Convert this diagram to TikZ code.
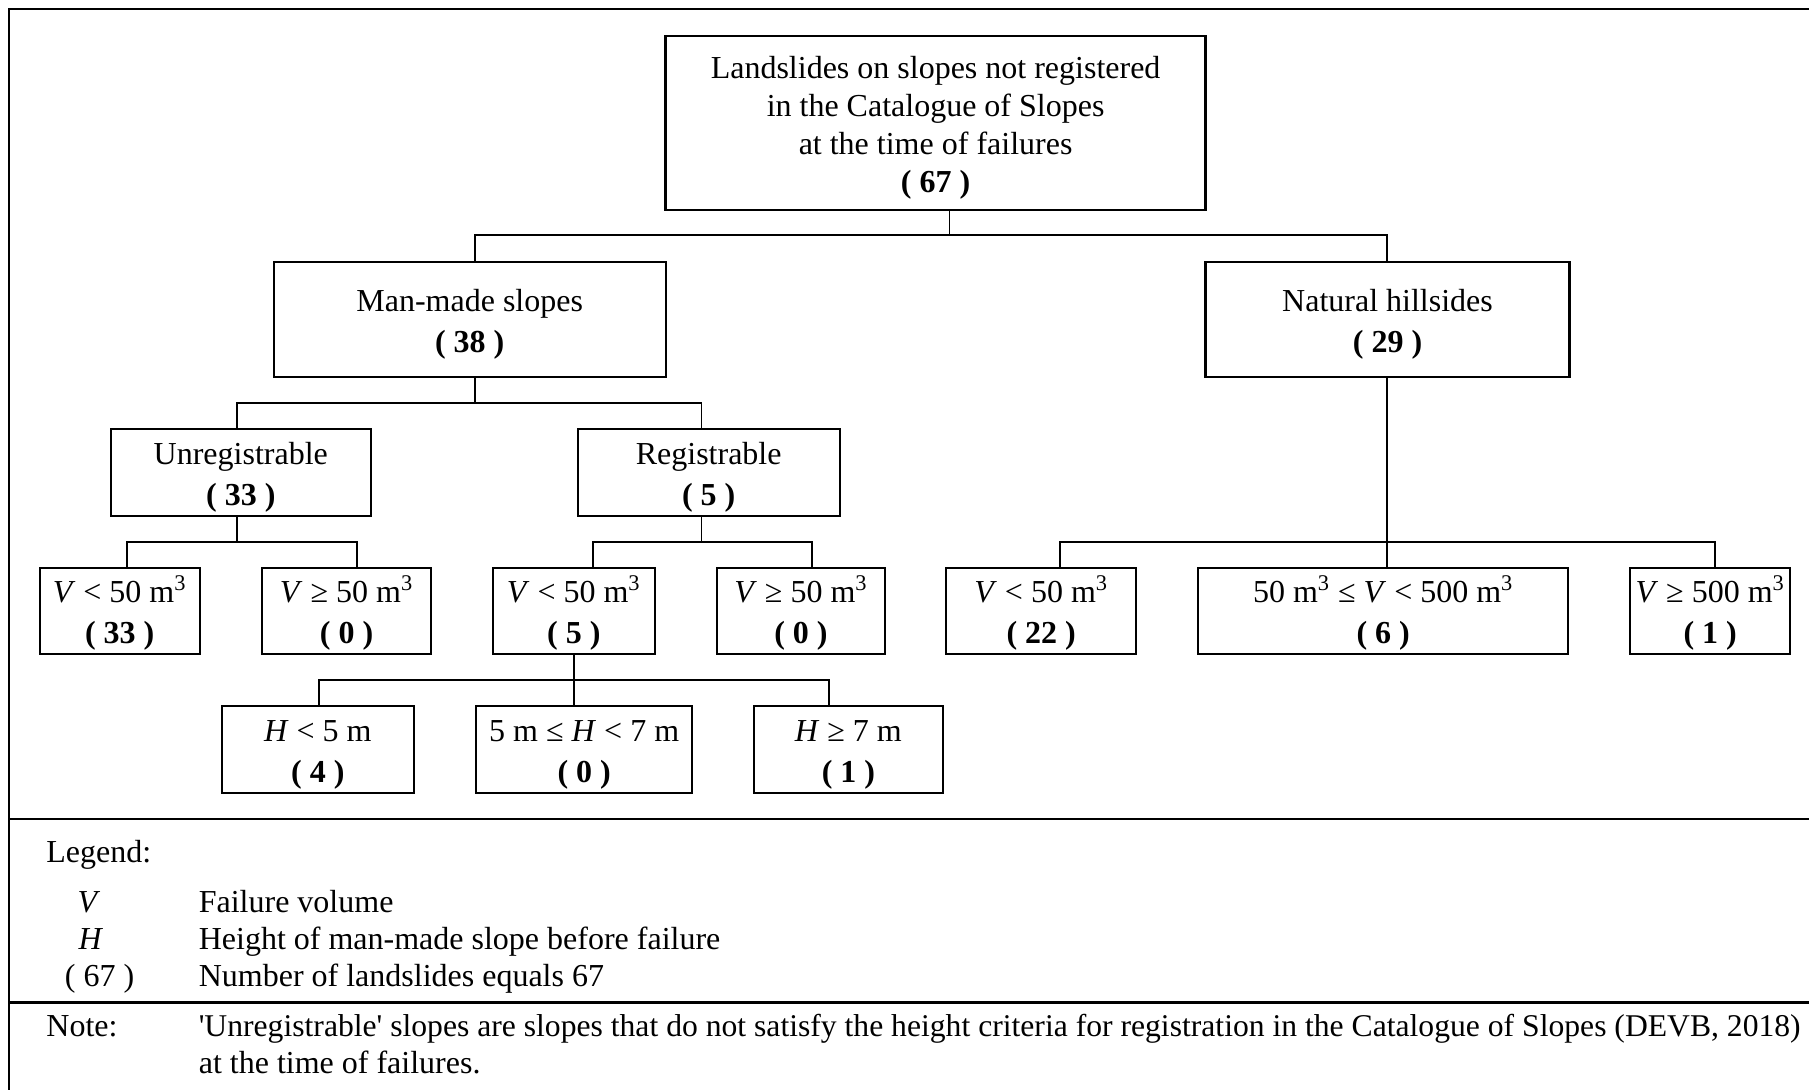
\documentclass[tikz,border=0pt]{standalone}
\usepackage{fontspec}
\setmainfont{Liberation Serif}
\newcommand\dfont{\fontsize{16}{20.5}\selectfont}
\newcommand\tfont{\fontsize{16}{18.9}\selectfont}
\newcommand\nfont{\fontsize{15.82}{19}\selectfont}
\newcommand\cub{m\textsuperscript{3}}
\newcommand\upstrut{\rule{0pt}{16pt}}
\begin{document}
\begin{tikzpicture}[x=0.5pt,y=-0.5pt,
  bx/.style 2 args={draw, line width=1.2pt, inner sep=0pt, align=center,
     minimum width=#1*0.5pt, minimum height=#2*0.5pt, font=\dfont},
  conn/.style={line width=0.9pt},
  frame/.style={line width=1.3pt},
  txt/.style={inner sep=0pt, font=\dfont}]
\useasboundingbox (0,0) rectangle (1809,1090);

% frame
\draw[frame] (9,1090) -- (9,9) -- (1809,9);
\draw[frame] (9,819) -- (1809,819);
\draw[frame] (9,1002.3) -- (1809,1002.3);

% boxes
\node[bx={540}{174}, font=\tfont] (top) at (935.6,123) {\upstrut Landslides on slopes not registered\\in the Catalogue of Slopes\\at the time of failures\\\textbf{( 67 )}};
\node[bx={392}{115}] (mm) at (469.7,319.4) {\upstrut Man-made slopes\\\textbf{( 38 )}};
\node[bx={364}{115}] (nh) at (1387.5,319.4) {\upstrut Natural hillsides\\\textbf{( 29 )}};
\node[bx={260}{87}] (un) at (240.8,472.4) {\upstrut Unregistrable\\\textbf{( 33 )}};
\node[bx={262}{87}] (re) at (708.7,472.4) {\upstrut Registrable\\\textbf{( 5 )}};

\node[bx={160}{86}] (u1) at (119.7,610.9) {\upstrut\textit{V} < 50 \cub\\\textbf{( 33 )}};
\node[bx={169}{86}] (u2) at (346.6,610.9) {\upstrut\textit{V} ≥ 50 \cub\\\textbf{( 0 )}};
\node[bx={162}{86}] (r1) at (573.8,610.9) {\upstrut\textit{V} < 50 \cub\\\textbf{( 5 )}};
\node[bx={168}{86}] (r2) at (801,610.9) {\upstrut\textit{V} ≥ 50 \cub\\\textbf{( 0 )}};
\node[bx={190}{86}] (n1) at (1041.2,610.9) {\upstrut\textit{V} < 50 \cub\\\textbf{( 22 )}};
\node[bx={370}{86}] (n2) at (1383.2,610.9) {\upstrut 50 \cub{} ≤ \textit{V} < 500 \cub\\\textbf{( 6 )}};
\node[bx={160}{86}] (n3) at (1710.2,610.9) {\upstrut\textit{V} ≥ 500 \cub\\\textbf{( 1 )}};

\node[bx={192}{87}] (h1) at (317.9,749.4) {\upstrut\textit{H} < 5 m\\\textbf{( 4 )}};
\node[bx={216}{87}] (h2) at (584.2,749.4) {\upstrut 5 m ≤ \textit{H} < 7 m\\\textbf{( 0 )}};
\node[bx={189}{87}] (h3) at (848.4,749.4) {\upstrut\textit{H} ≥ 7 m\\\textbf{( 1 )}};

% connectors level 1
\coordinate (j0) at (949.5,235.4);
\coordinate (kmm) at (474.6,235.4);
\coordinate (knh) at (1387,235.4);
\draw[conn] (top.south -| j0) -- (j0);
\draw[conn] (mm.north -| kmm) -- (kmm) -- (knh) -- (nh.north -| knh);

% level 2
\coordinate (j1) at (474.6,402.7);
\coordinate (kun) at (237.1,402.7);
\coordinate (kre) at (701.5,402.7);
\draw[conn] (mm.south -| j1) -- (j1);
\draw[conn] (un.north -| kun) -- (kun) -- (kre) -- (re.north -| kre);

% level 3
\coordinate (j2) at (237.1,541.7);
\coordinate (ku1) at (126.8,541.7);
\coordinate (ku2) at (357,541.7);
\draw[conn] (un.south -| j2) -- (j2);
\draw[conn] (u1.north -| ku1) -- (ku1) -- (ku2) -- (u2.north -| ku2);

\coordinate (j3) at (701.5,541.7);
\coordinate (kr1) at (592.8,541.7);
\coordinate (kr2) at (812,541.7);
\draw[conn] (re.south -| j3) -- (j3);
\draw[conn] (r1.north -| kr1) -- (kr1) -- (kr2) -- (r2.north -| kr2);

\coordinate (j4) at (1387,541.7);
\coordinate (kn1) at (1060,541.7);
\coordinate (kn3) at (1715,541.7);
\draw[conn] (nh.south -| j4) -- (j4) -- (n2.north -| j4);
\draw[conn] (n1.north -| kn1) -- (kn1) -- (kn3) -- (n3.north -| kn3);

% level 4
\coordinate (j5) at (573.8,680);
\coordinate (kh1) at (319,680);
\coordinate (kh3) at (829.1,680);
\draw[conn] (r1.south -| j5) -- (j5) -- (h2.north -| j5);
\draw[conn] (h1.north -| kh1) -- (kh1) -- (kh3) -- (h3.north -| kh3);

% legend
\node[txt, anchor=base west] (leg) at (46,862.5) {Legend:};
\node[txt, anchor=base] (lv) at (89,912) {\textit{V}};
\node[txt, anchor=base west] (lvt) at (198.4,912) {Failure volume};
\node[txt, anchor=base] (lh) at (91,949.5) {\textit{H}};
\node[txt, anchor=base west] (lht) at (198.4,949.5) {Height of man-made slope before failure};
\node[txt, anchor=base] (ln) at (99.5,986) {( 67 )};
\node[txt, anchor=base west] (lnt) at (198.4,986) {Number of landslides equals 67};

% note
\node[txt, anchor=base west] (note) at (46,1036) {Note:};
\node[txt, anchor=base west, font=\nfont] (notet1) at (198.4,1036) {\textquotesingle Unregistrable\textquotesingle{} slopes are slopes that do not satisfy the height criteria for registration in the Catalogue of Slopes (DEVB, 2018)};
\node[txt, anchor=base west] (notet2) at (198.4,1073) {at the time of failures.};
\end{tikzpicture}
\end{document}
